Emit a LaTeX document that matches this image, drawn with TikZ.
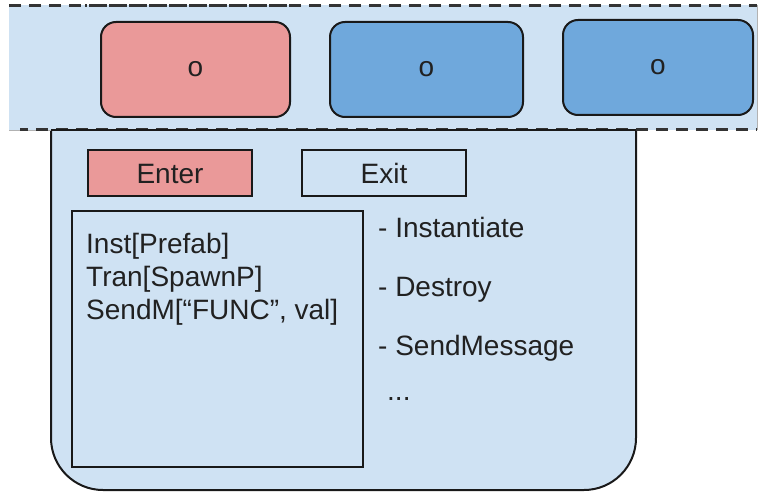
\documentclass[tikz,border=0pt]{standalone}
\usepackage{fontspec}
\setmainfont{Liberation Sans}
\begin{document}
\begin{tikzpicture}[x=1pt,y=-1pt,
  txt/.style={font=\fontsize{28}{33}\selectfont, text=black!87},
  slot/.style={draw=black!90, line width=2pt, rounded corners=15pt, txt},
  flag/.style={draw=black!90, line width=2pt, txt},
  item/.style={txt, anchor=base west, inner sep=0pt},
  edgedash/.style={draw=black!80, line width=3pt, dash pattern=on 12pt off 8pt}
]
\definecolor{pale}{HTML}{CFE2F3}
\definecolor{pinkc}{HTML}{EA9999}
\definecolor{bluec}{HTML}{6FA8DC}
\useasboundingbox (0,0) rectangle (758,492);

% object body with rounded lower corners
\path[fill=pale, draw=black!90, line width=2pt, rounded corners=52pt]
  (51,130) -- (51,490) -- (636,490) -- (636,130);

% strip of slots
\fill[pale] (9,5) rectangle (757,130);
\draw[black!30, line width=0.6pt] (757,5) -- (757,130);
\draw[black!30, line width=0.6pt] (9,130) -- (51,130);
\draw[edgedash] (9,6) -- (757,6);
\draw[edgedash, dash phase=10pt] (85,6) -- (295,6);
\draw[edgedash, dash phase=4pt] (20,130) -- (757,130);
\draw[black!90, line width=2pt] (51,130) -- (636,130);

\node[slot, fill=pinkc, minimum width=189pt, minimum height=95pt] (s1) at (195.5,69.5) {o};
\node[slot, fill=bluec, minimum width=193pt, minimum height=95pt] (s2) at (426.5,69.5) {o};
\node[slot, fill=bluec, minimum width=190pt, minimum height=95pt] (s3) at (658,67.5) {o};

% enter / exit flags
\node[flag, fill=pinkc, minimum width=164pt, minimum height=46pt] (enter) at (170,173) {};
\node[flag, fill=pale, minimum width=164pt, minimum height=46pt] (exit) at (384,173) {};
\node[txt, anchor=base, inner sep=0pt] (entert) at (170,183) {Enter};
\node[txt, anchor=base, inner sep=0pt] (exitt) at (384,183) {Exit};

% script panel
\node[draw=black!90, line width=2pt, minimum width=291pt, minimum height=256pt] (panel) at (217.5,339) {};
\node[item] (c1) at (86,253) {Inst[Prefab]};
\node[item] (c2) at (86,286) {Tran[SpawnP]};
\node[item] (c3) at (86,319) {SendM[“FUNC”, val]};

% function list
\node[item] (f1) at (378,237) {- Instantiate};
\node[item] (f2) at (378,296) {- Destroy};
\node[item] (f3) at (378,355) {- SendMessage};
\node[item] (f4) at (387,400) {...};
\end{tikzpicture}
\end{document}
